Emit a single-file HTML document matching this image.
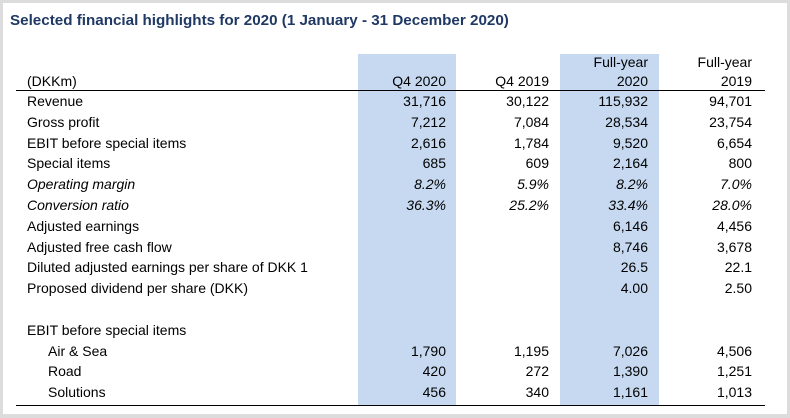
<!DOCTYPE html>
<html><head><style>
*{margin:0;padding:0}
body{width:790px;height:418px;background:#dcdcdc;position:relative;overflow:hidden;font-family:"Liberation Sans",Arial,sans-serif}
.in{position:absolute;left:3px;top:3px;width:784px;height:411px;background:#fff}
.t{position:absolute;left:10px;top:12px;font-size:15.2px;font-weight:bold;color:#1f3864}
.b{position:absolute;top:54px;height:352px;background:#c6d9f0}
.l{position:absolute;height:1px;background:#000;left:16px;width:749px}
.r{position:absolute;left:0;font-size:14px;color:#000;white-space:nowrap;height:20px;line-height:20px}
.r span{position:absolute;text-align:right;width:100px}
.i{font-style:italic}
</style></head><body>
<div class="in"></div>
<div class="t">Selected financial highlights for 2020 (1 January - 31 December 2020)</div>
<div class="b" style="left:358px;width:98px"></div>
<div class="b" style="left:560px;width:99px"></div>
<div class="l" style="top:90px"></div>
<div class="l" style="top:405px"></div>
<div class="r" style="top:52px"><span style="left:548px">Full-year</span><span style="left:652px">Full-year</span></div>
<div class="r" style="top:71px"><span style="left:27px;text-align:left">(DKKm)</span><span style="left:346px">Q4 2020</span><span style="left:449px">Q4 2019</span><span style="left:548px">2020</span><span style="left:652px">2019</span></div>
<div id="rows"></div>
<script>
var d=[["Revenue","31,716","30,122","115,932","94,701"],
["Gross profit","7,212","7,084","28,534","23,754"],
["EBIT before special items","2,616","1,784","9,520","6,654"],
["Special items","685","609","2,164","800"],
["*Operating margin","8.2%","5.9%","8.2%","7.0%"],
["*Conversion ratio","36.3%","25.2%","33.4%","28.0%"],
["Adjusted earnings","","","6,146","4,456"],
["Adjusted free cash flow","","","8,746","3,678"],
["Diluted adjusted earnings per share of DKK 1","","","26.5","22.1"],
["Proposed dividend per share (DKK)","","","4.00","2.50"],
null,
["EBIT before special items","","","",""],
[">Air & Sea","1,790","1,195","7,026","4,506"],
[">Road","420","272","1,390","1,251"],
[">Solutions","456","340","1,161","1,013"]];
var h="",xs=[346,449,548,652];
d.forEach(function(r,k){if(!r)return;var y=91+k*20.8,l=r[0],c="",x=27;
if(l[0]=="*"){c="i";l=l.slice(1)}if(l[0]==">"){x=48;l=l.slice(1)}
h+='<div class="r '+c+'" style="top:'+y+'px"><span style="left:'+x+'px;text-align:left;width:auto">'+l.replace("&","&amp;")+'</span>';
for(var j=1;j<5;j++)h+='<span style="left:'+xs[j-1]+'px">'+r[j]+'</span>';h+='</div>'});
document.getElementById("rows").innerHTML=h;
</script>
</body></html>
